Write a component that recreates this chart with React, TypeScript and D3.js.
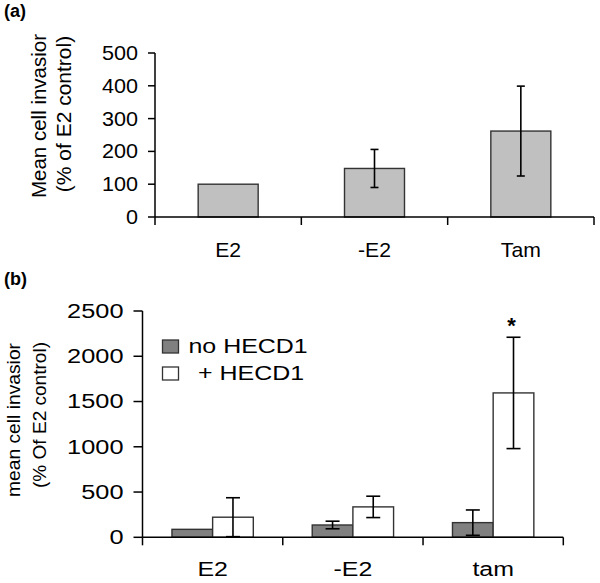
import React from "react";
import * as d3 from "d3";

// ---- Panel (a) data ----
const catsA = ["E2", "-E2", "Tam"];
const valuesA = [100, 148, 262];
const errorsA = [0, 58, 137];
const ticksA = [0, 100, 200, 300, 400, 500];

// ---- Panel (b) data ----
const catsB = ["E2", "-E2", "tam"];
const seriesB = ["no HECD1", "+ HECD1"];
const noHecd1 = [88, 136, 162];
const noHecd1Err = [0, 42, 140];
const plusHecd1 = [222, 336, 1595];
const plusHecd1Err = [215, 118, 615];
const ticksB = [0, 500, 1000, 1500, 2000, 2500];
const starCategory = "tam";

const FONT = "'Liberation Sans', Arial, Helvetica, sans-serif";

function SText({ x, y, sx = 1, anchor = "start", size = 19, weight = "normal", dy = "0", children }: any) {
  return (
    <text
      transform={`translate(${x},${y}) scale(${sx},1)`}
      textAnchor={anchor}
      fontSize={size}
      fontWeight={weight}
      fontFamily={FONT}
      dy={dy}
      fill="#000"
    >
      {children}
    </text>
  );
}

function ErrorBar({ cx, yTop, yBot, cap }: any) {
  return (
    <g stroke="#000" strokeWidth={1.6} fill="none">
      <line x1={cx} x2={cx} y1={yTop} y2={yBot} />
      <line x1={cx - cap / 2} x2={cx + cap / 2} y1={yTop} y2={yTop} />
      <line x1={cx - cap / 2} x2={cx + cap / 2} y1={yBot} y2={yBot} />
    </g>
  );
}

function PanelA() {
  const x = d3.scaleBand<string>().domain(catsA).range([155, 594]).padding(0);
  const y = d3.scaleLinear().domain([0, 500]).range([217, 53]);
  const bw = x.bandwidth();
  const barW = bw * 0.41;
  const sx = 1.06;
  const edges = [...catsA.map((c) => x(c)!), 594];
  return (
    <g>
      <SText x={4} y={17} size={18} weight="bold">(a)</SText>
      {catsA.map((c, i) => {
        const cx = x(c)! + bw / 2;
        return (
          <g key={c}>
            <rect
              x={cx - barW / 2}
              y={y(valuesA[i])}
              width={barW}
              height={y(0) - y(valuesA[i])}
              fill="#c0c0c0"
              stroke="#333"
              strokeWidth={1.4}
            />
            {errorsA[i] > 0 && (
              <ErrorBar cx={cx} yTop={y(valuesA[i] + errorsA[i])} yBot={y(valuesA[i] - errorsA[i])} cap={8} />
            )}
            <SText x={cx} y={257} sx={sx} size={20} anchor="middle">{c}</SText>
          </g>
        );
      })}
      <g stroke="#000" strokeWidth={1.5}>
        <line x1={155} x2={155} y1={y(500)} y2={y(0)} />
        <line x1={155} x2={594} y1={y(0)} y2={y(0)} />
        {ticksA.map((t) => (
          <line key={t} x1={148} x2={155} y1={y(t)} y2={y(t)} />
        ))}
        {edges.map((e, i) => (
          <line key={i} x1={e} x2={e} y1={y(0)} y2={y(0) + 8} />
        ))}
      </g>
      {ticksA.map((t) => (
        <SText key={t} x={138} y={y(t)} sx={1.08} size={20} anchor="end" dy="0.35em">{String(t)}</SText>
      ))}
      <text transform="translate(46,116) rotate(-90)" textAnchor="middle" fontSize={20.5} fontFamily={FONT}>
        Mean cell invasior
      </text>
      <text transform="translate(71,114) rotate(-90)" textAnchor="middle" fontSize={21} fontFamily={FONT}>
        (% of E2 control)
      </text>
    </g>
  );
}

function PanelB() {
  const x0 = d3.scaleBand<string>().domain(catsB).range([142.5, 563.3]).padding(0);
  const bw = x0.bandwidth();
  const x1 = d3.scaleBand<string>().domain(seriesB).range([bw * 0.21, bw * 0.79]).padding(0);
  const y = d3.scaleLinear().domain([0, 2500]).range([537.3, 311]);
  const sx = 1.28;
  const data = [
    { name: seriesB[0], vals: noHecd1, errs: noHecd1Err, fill: "#808080" },
    { name: seriesB[1], vals: plusHecd1, errs: plusHecd1Err, fill: "#ffffff" },
  ];
  const edges = [...catsB.map((c) => x0(c)!), 563.3];
  const starIdx = catsB.indexOf(starCategory);
  return (
    <g>
      <SText x={4} y={285} size={18} weight="bold">(b)</SText>
      {catsB.map((c, i) => (
        <g key={c}>
          {data.map((s) => {
            const bx = x0(c)! + x1(s.name)!;
            const w = x1.bandwidth();
            return (
              <rect
                key={s.name}
                x={bx}
                y={y(s.vals[i])}
                width={w}
                height={y(0) - y(s.vals[i])}
                fill={s.fill}
                stroke="#333"
                strokeWidth={1.4}
              />
            );
          })}
          {data.map((s) => {
            const cx = x0(c)! + x1(s.name)! + x1.bandwidth() / 2;
            return s.errs[i] > 0 ? (
              <ErrorBar
                key={s.name}
                cx={cx}
                yTop={y(s.vals[i] + s.errs[i])}
                yBot={y(Math.max(0, s.vals[i] - s.errs[i]))}
                cap={14}
              />
            ) : null;
          })}
          <SText x={x0(c)! + bw / 2} y={576} sx={sx} size={19.5} anchor="middle">{c}</SText>
        </g>
      ))}
      <SText
        x={x0(catsB[starIdx])! + x1(seriesB[1])! + x1.bandwidth() / 2 - 2}
        y={333}
        size={22}
        anchor="middle"
        weight="bold"
      >
        *
      </SText>
      <g stroke="#000" strokeWidth={1.5}>
        <line x1={142.5} x2={142.5} y1={y(2500)} y2={y(0)} />
        <line x1={142.5} x2={563.3} y1={y(0)} y2={y(0)} />
        {ticksB.map((t) => (
          <line key={t} x1={133.5} x2={142.5} y1={y(t)} y2={y(t)} />
        ))}
        {edges.map((e, i) => (
          <line key={i} x1={e} x2={e} y1={y(0)} y2={y(0) + 8} />
        ))}
      </g>
      {ticksB.map((t) => (
        <SText key={t} x={123.5} y={y(t)} sx={1.3} size={19.5} anchor="end" dy="0.35em">{String(t)}</SText>
      ))}
      <rect x={162.5} y={340} width={16} height={13} fill="#808080" stroke="#333" strokeWidth={1.3} />
      <SText x={188.5} y={353} sx={sx} size={19.5}>{seriesB[0]}</SText>
      <rect x={162.5} y={367} width={16} height={13} fill="#fff" stroke="#333" strokeWidth={1.3} />
      <SText x={198} y={380} sx={sx} size={19.5}>{seriesB[1]}</SText>
      <text
        transform="translate(19.5,420) rotate(-90)"
        textAnchor="middle"
        fontSize={19}
        fontFamily={FONT}
        textLength={154}
        lengthAdjust="spacingAndGlyphs"
      >
        mean cell invasior
      </text>
      <text
        transform="translate(46,415) rotate(-90)"
        textAnchor="middle"
        fontSize={19}
        fontFamily={FONT}
        textLength={146}
        lengthAdjust="spacingAndGlyphs"
      >
        (% Of E2 control)
      </text>
    </g>
  );
}

export default function App() {
  return (
    <svg
      width={600}
      height={583}
      viewBox="0 0 600 583"
      style={{ position: "absolute", left: 0, top: 0, background: "#fff" }}
    >
      <rect width={600} height={583} fill="#fff" />
      <PanelA />
      <PanelB />
    </svg>
  );
}
